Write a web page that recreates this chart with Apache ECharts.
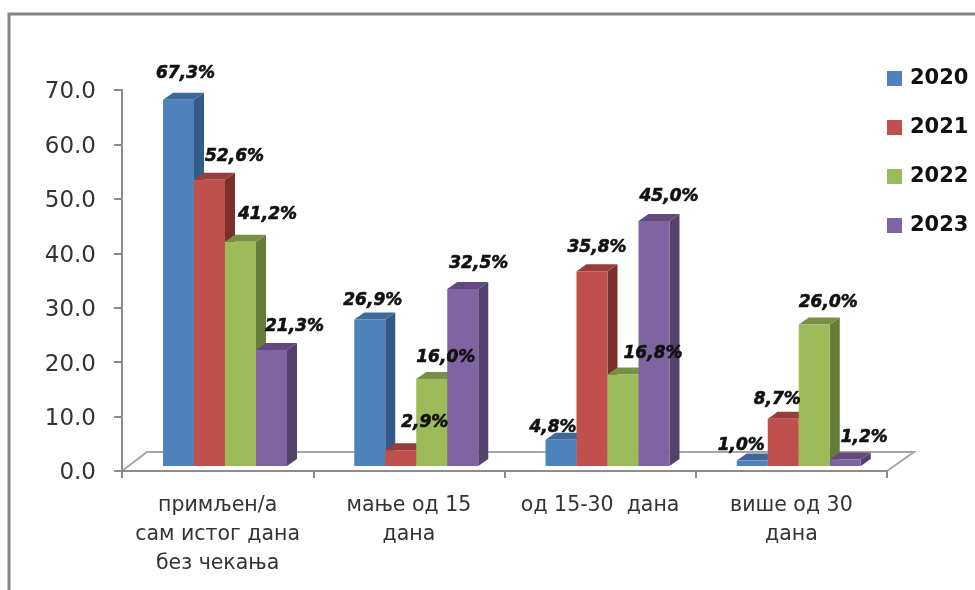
<!DOCTYPE html>
<html>
<head>
<meta charset="utf-8">
<style>html,body{margin:0;padding:0;background:#fff}#main{width:975px;height:590px}</style>
<script src="https://cdn.jsdelivr.net/npm/echarts@6/dist/echarts.min.js"></script>
</head>
<body>
<div id="main"></div>
<script>
var categories = ['примљен/а\nсам истог дана\nбез чекања', 'мање од 15\nдана', 'од 15-30  дана', 'више од 30\nдана'];
var years = ['2020', '2021', '2022', '2023'];
var values2020 = [67.3, 26.9, 4.8, 1.0];
var values2021 = [52.6, 2.9, 35.8, 8.7];
var values2022 = [41.2, 16.0, 16.8, 26.0];
var values2023 = [21.3, 32.5, 45.0, 1.2];
var yTicks = [0, 70, 10];

// боје: предња страна, бочна, горња
var frontColors = ['#4f81bd', '#c0504d', '#9bbb59', '#8064a2'];
var sideColors = ['#345a88', '#7b302e', '#667d3a', '#54426c'];
var topColors = ['#3f6899', '#963e3b', '#778f47', '#63497e'];

// померај натписа у односу на врх стубића (ручно постављени у оригиналу)
var labelOffsets = [
    [[7, -26], [3, -19], [-8, -12], [-11, -15]],
    [[25, -23], [24, -28], [5, -24], [-6, -19]],
    [[27, -27], [14, -21], [30, -21], [14, -22]],
    [[23, -23], [16, -26], [15, -24], [19, -22]]
];

var BAR_START = 41, BAR_W = 31, DEPTH_X = 10, DEPTH_Y = 7, BASE_UP = 5;

function stubic(si) {
    return function (params, api) {
        var idx = api.value(0), val = api.value(1);
        var band = api.size([1, 0])[0];
        var top = api.coord([idx, val]);
        var zero = api.coord([idx, 0]);
        var x0 = top[0] - band / 2 + BAR_START + si * BAR_W;
        var x1 = x0 + BAR_W;
        var yt = top[1] - BASE_UP;
        var yb = zero[1] - BASE_UP;
        var off = labelOffsets[si][idx];
        return {
            type: 'group',
            children: [
                { type: 'polygon', shape: { points: [[x1, yt], [x1 + DEPTH_X, yt - DEPTH_Y], [x1 + DEPTH_X, yb - DEPTH_Y], [x1, yb]] }, style: { fill: sideColors[si] } },
                { type: 'polygon', shape: { points: [[x0, yt], [x0 + DEPTH_X, yt - DEPTH_Y], [x1 + DEPTH_X, yt - DEPTH_Y], [x1, yt]] }, style: { fill: topColors[si] } },
                { type: 'rect', shape: { x: x0, y: yt, width: BAR_W, height: yb - yt }, style: { fill: frontColors[si] } },
                {
                    type: 'text', z2: 100,
                    style: {
                        x: (x0 + x1) / 2 + off[0], y: yt + off[1],
                        text: val.toFixed(1).replace('.', ',') + '%',
                        align: 'center', verticalAlign: 'middle', fill: '#111',
                        stroke: '#111', lineWidth: 0.6,
                        font: 'italic bold 17px "DejaVu Sans"'
                    }
                }
            ]
        };
    };
}

var allValues = [values2020, values2021, values2022, values2023];
var series = years.map(function (y, si) {
    return {
        name: y,
        type: 'custom',
        coordinateSystem: 'cartesian2d',
        renderItem: stubic(si),
        itemStyle: { color: frontColors[si] },
        encode: { x: 0, y: 1 },
        data: allValues[si].map(function (v, i) { return [i, v]; })
    };
});

var chart = echarts.init(document.getElementById('main'));
var axisGray = '#8c8c8c';
chart.setOption({
    backgroundColor: '#fff',
    animation: false,
    textStyle: { fontFamily: '"DejaVu Sans"' },
    graphic: [
        // оквир
        { type: 'polyline', z: 0, shape: { points: [[9, 590], [9, 14], [975, 14]] }, style: { fill: null, stroke: '#858585', lineWidth: 3 } },
        // под
        { type: 'polyline', z: 0, shape: { points: [[122, 471], [147, 452], [914, 452], [887, 471]] }, style: { fill: '#fff', stroke: '#a6a6a6', lineWidth: 2 } }
    ],
    grid: { left: 122, right: 88, top: 90, bottom: 119 },
    legend: {
        orient: 'vertical', left: 882, top: 63, itemWidth: 15, itemHeight: 15, itemGap: 28,
        icon: 'rect', data: years,
        textStyle: { fontFamily: '"DejaVu Sans"', fontWeight: 'bold', fontSize: 21, color: '#111', padding: [0, 0, 0, 3] }
    },
    xAxis: {
        type: 'category', data: categories,
        axisLine: { lineStyle: { color: axisGray, width: 2 } },
        axisTick: { show: true, length: 7, lineStyle: { color: axisGray, width: 2 } },
        axisLabel: { color: '#333', fontSize: 20.5, lineHeight: 29, margin: 20, interval: 0 }
    },
    yAxis: {
        type: 'value', min: yTicks[0], max: yTicks[1], interval: yTicks[2],
        splitLine: { show: false },
        axisLine: { show: true, lineStyle: { color: axisGray, width: 2 } },
        axisTick: { show: true, length: 8, lineStyle: { color: axisGray, width: 2 } },
        axisLabel: {
            margin: 26,
            formatter: function (v) { return '{v|' + v.toFixed(1) + '}'; },
            rich: { v: { color: '#333', fontSize: 23, padding: [5, 0, 0, 0] } }
        }
    },
    series: series
});
</script>
</body>
</html>
